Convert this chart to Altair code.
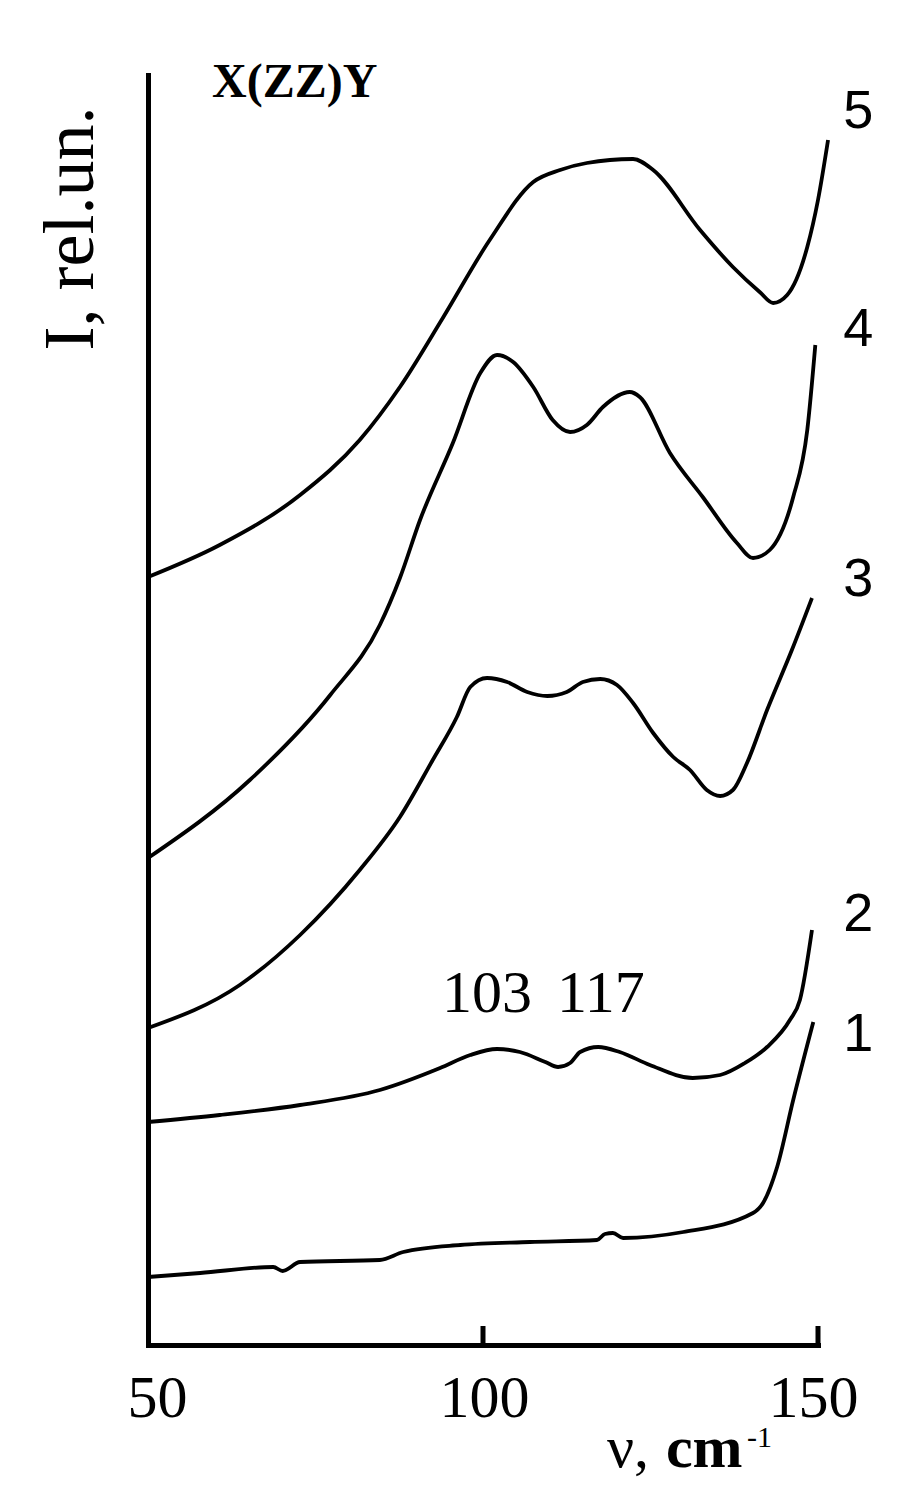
import altair as alt
import pandas as pd

# ---- data (nu in cm^-1, intensity in rel. units) ----
nu1 = [50.0, 57.8, 68.7, 70.1, 72.7, 84.6, 88.1, 96.6, 107.0, 117.0, 118.2, 119.4, 120.9, 129.9, 140.3, 141.8, 143.9, 146.3, 149.3]
i1 = [0.68, 0.72, 0.78, 0.74, 0.83, 0.85, 0.93, 1.00, 1.03, 1.05, 1.11, 1.12, 1.07, 1.13, 1.32, 1.42, 1.78, 2.45, 3.23]

nu2 = [50.0, 60.7, 72.7, 84.6, 93.6, 98.1, 102.1, 105.5, 109.3, 111.2, 113.0, 114.5, 117.2, 120.4, 124.9, 131.3, 135.4, 139.1, 142.4, 145.8, 147.3, 149.1]
i2 = [2.23, 2.30, 2.40, 2.55, 2.77, 2.90, 2.96, 2.93, 2.83, 2.78, 2.82, 2.93, 2.98, 2.93, 2.80, 2.67, 2.70, 2.82, 2.98, 3.25, 3.45, 4.15]

nu3 = [50.0, 63.7, 72.7, 81.6, 87.6, 92.5, 96.1, 98.1, 100.6, 103.6, 106.6, 109.6, 112.5, 114.9, 117.5, 120.0, 122.4, 125.4, 128.4, 130.9, 133.4, 135.4, 137.3, 139.4, 142.4, 146.1, 149.1]
i3 = [3.17, 3.60, 4.10, 4.75, 5.28, 5.85, 6.28, 6.58, 6.67, 6.63, 6.53, 6.49, 6.53, 6.63, 6.66, 6.60, 6.42, 6.12, 5.88, 5.75, 5.55, 5.49, 5.55, 5.82, 6.35, 6.95, 7.47]

nu4 = [50.0, 65.2, 77.2, 84.6, 87.6, 90.6, 95.5, 99.6, 102.1, 104.5, 107.5, 110.4, 113.0, 115.5, 117.9, 121.9, 123.4, 127.9, 132.8, 137.9, 140.3, 142.8, 146.3, 148.4, 149.6]
i4 = [4.87, 5.65, 6.50, 7.20, 7.67, 8.25, 9.02, 9.72, 9.90, 9.83, 9.58, 9.25, 9.13, 9.20, 9.38, 9.53, 9.48, 8.92, 8.48, 8.02, 7.87, 7.95, 8.48, 9.15, 10.00]

nu5 = [50.0, 60.7, 72.7, 81.6, 87.6, 94.0, 101.0, 107.5, 111.5, 115.5, 122.4, 125.4, 132.4, 137.3, 141.3, 143.3, 145.4, 148.4, 150.0, 151.5]
i5 = [7.68, 8.00, 8.50, 9.05, 9.58, 10.27, 11.05, 11.63, 11.75, 11.82, 11.86, 11.75, 11.15, 10.78, 10.53, 10.42, 10.50, 10.98, 11.45, 12.05]

curve_names = ["1", "2", "3", "4", "5"]
curve_label_nu = [156.0, 156.0, 156.0, 156.0, 156.0]
curve_label_i = [3.10, 4.30, 7.65, 10.15, 12.33]

peak_labels = ["103", "117"]
peak_nu = [100.6, 117.6]
peak_i = [3.33, 3.33]

x_ticks = [50, 100, 150]
inner_ticks = [100, 150]

# ---- tables ----
rows = []
for name, xs, ys in zip(curve_names, [nu1, nu2, nu3, nu4, nu5], [i1, i2, i3, i4, i5]):
    for k, (a, b) in enumerate(zip(xs, ys)):
        rows.append({"curve": name, "nu": a, "I": b, "order": k})
df = pd.DataFrame(rows)

df_curve_labels = pd.DataFrame({"nu": curve_label_nu, "I": curve_label_i, "t": curve_names})
df_peaks = pd.DataFrame({"nu": peak_nu, "I": peak_i, "t": peak_labels})
df_ticks = pd.DataFrame({"nu": inner_ticks, "I": [0.0, 0.0], "I2": [0.19, 0.19]})
df_title = pd.DataFrame({"nu": [71.9], "I": [12.48], "t": ["X(ZZ)Y"]})
df_xt1 = pd.DataFrame({"nu": [118.5], "I": [-1.22], "t": ["ν,"]})
df_xt2 = pd.DataFrame({"nu": [127.3], "I": [-1.22], "t": ["cm"]})
df_xt3 = pd.DataFrame({"nu": [139.4], "I": [-1.02], "t": ["-1"]})

xscale = alt.Scale(domain=[50, 150], nice=False, zero=False)
yscale = alt.Scale(domain=[0, 12.7], nice=False, zero=False)

xaxis = alt.Axis(
    values=x_ticks, ticks=False, grid=False, domainWidth=5, domainColor="black",
    domainCap="square", labelFont="Liberation Serif", labelFontSize=60,
    labelColor="black", labelPadding=24, labelFlush=False,
    labelOffset={"condition": [{"test": "datum.value == 50", "value": 9},
                               {"test": "datum.value == 150", "value": -5}],
                 "value": 1},
)
yaxis = alt.Axis(
    labels=False, ticks=False, grid=False, domainWidth=5, domainColor="black",
    domainCap="square", title="I, rel.un.", titleFont="Liberation Serif",
    titleFontSize=72, titleFontWeight="normal", titleColor="black",
    titleAngle=270, titleX=-56, titleY=153, titleAlign="center",
    titleBaseline="alphabetic",
)

lines = alt.Chart(df).mark_line(color="black", strokeWidth=3.8, interpolate="monotone").encode(
    x=alt.X("nu:Q", scale=xscale, axis=xaxis, title=None),
    y=alt.Y("I:Q", scale=yscale, axis=yaxis),
    detail="curve:N",
    order="order:Q",
)

ticks = alt.Chart(df_ticks).mark_rule(color="black", strokeWidth=5).encode(
    x=alt.X("nu:Q", scale=xscale), y=alt.Y("I:Q", scale=yscale), y2="I2:Q"
)

clabels = alt.Chart(df_curve_labels).mark_text(
    font="Liberation Sans", fontSize=54, color="black", align="center", baseline="middle"
).encode(x=alt.X("nu:Q", scale=xscale), y=alt.Y("I:Q", scale=yscale), text="t:N")

plabels = alt.Chart(df_peaks).mark_text(
    font="Liberation Serif", fontSize=60, color="black", align="center", baseline="alphabetic"
).encode(x=alt.X("nu:Q", scale=xscale), y=alt.Y("I:Q", scale=yscale), text="t:N")

title_txt = alt.Chart(df_title).mark_text(
    font="Liberation Serif", fontSize=48, fontWeight="bold", color="black",
    align="center", baseline="alphabetic"
).encode(x=alt.X("nu:Q", scale=xscale), y=alt.Y("I:Q", scale=yscale), text="t:N")

xt1 = alt.Chart(df_xt1).mark_text(
    font="Liberation Serif", fontSize=60, color="black", align="left", baseline="alphabetic"
).encode(x=alt.X("nu:Q", scale=xscale), y=alt.Y("I:Q", scale=yscale), text="t:N")
xt2 = alt.Chart(df_xt2).mark_text(
    font="Liberation Serif", fontSize=60, fontWeight="bold", color="black", align="left", baseline="alphabetic"
).encode(x=alt.X("nu:Q", scale=xscale), y=alt.Y("I:Q", scale=yscale), text="t:N")
xt3 = alt.Chart(df_xt3).mark_text(
    font="Liberation Serif", fontSize=30, color="black", align="left", baseline="alphabetic"
).encode(x=alt.X("nu:Q", scale=xscale), y=alt.Y("I:Q", scale=yscale), text="t:N")

chart = alt.layer(lines, ticks, clabels, plabels, title_txt, xt1, xt2, xt3).properties(
    width=670, height=1270,
    autosize=alt.AutoSizeParams(type="none"),
    padding={"left": 140, "top": 67, "right": 80, "bottom": 140},
    background="white",
).configure_view(stroke=None)

chart.save("out.html", embed_options={"renderer": "svg", "actions": False})
